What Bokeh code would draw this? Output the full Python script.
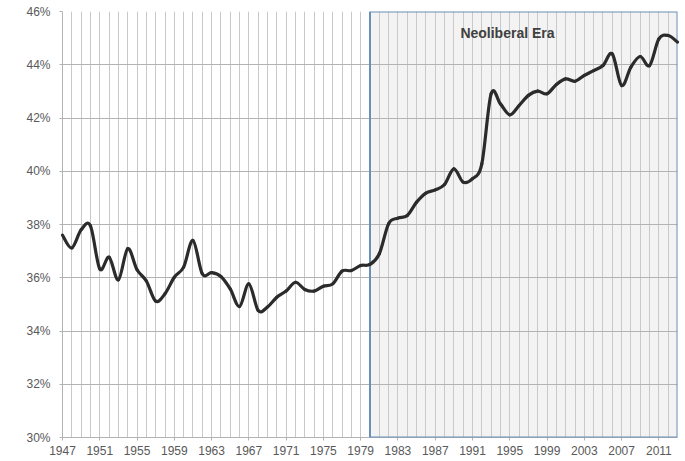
from bokeh.plotting import figure
from bokeh.models import Range1d, FixedTicker, PrintfTickFormatter, BoxAnnotation, Label
from bokeh.embed import file_html
from bokeh.resources import INLINE

years = list(range(1947, 2014))
share = [
    37.6, 37.12, 37.8, 37.95, 36.33, 36.77, 35.92, 37.09, 36.3, 35.88,
    35.12, 35.4, 36.02, 36.4, 37.4, 36.15, 36.19, 36.05, 35.58, 34.92,
    35.77, 34.77, 34.9, 35.27, 35.5, 35.83, 35.56, 35.5, 35.68, 35.77,
    36.25, 36.27, 36.46, 36.5, 36.9, 38.03, 38.24, 38.34, 38.84, 39.18,
    39.3, 39.5, 40.09, 39.59, 39.72, 40.28, 42.91, 42.53, 42.12, 42.47,
    42.85, 43.01, 42.91, 43.26, 43.47, 43.38, 43.6, 43.78, 43.97, 44.41,
    43.22, 43.91, 44.31, 43.97, 44.97, 45.1, 44.85,
]
x_tick_years = list(range(1947, 2014, 4))
y_ticks = [30, 32, 34, 36, 38, 40, 42, 44, 46]
era_start, era_end = 1980, 2013
era_label = "Neoliberal Era"
era_label_x, era_label_y = 1989.7, 45.2

p = figure(width=680, height=461, output_backend="svg", toolbar_location=None,
           x_range=Range1d(1947, 2013), y_range=Range1d(30, 46),
           min_border_left=62, min_border_top=11, min_border_bottom=24, min_border_right=3)
p.outline_line_color = None
p.background_fill_color = "white"
p.border_fill_color = "white"

era_fill = BoxAnnotation(left=era_start, right=era_end, bottom=30, top=46,
                         fill_color="#f3f3f3", fill_alpha=1.0, line_color=None, level="image")
p.add_layout(era_fill)

p.xgrid.ticker = FixedTicker(ticks=years)
p.xgrid.grid_line_color = "#c9c9c9"
p.xgrid.grid_line_width = 1
p.ygrid.ticker = FixedTicker(ticks=y_ticks)
p.ygrid.grid_line_color = "#b3b3b3"
p.ygrid.grid_line_width = 1

era_border = BoxAnnotation(left=era_start, right=era_end, bottom=30, top=46,
                           fill_color=None, fill_alpha=0, line_color="#6a90b8", line_alpha=1.0,
                           line_width=2, level="annotation")
p.add_layout(era_border)

p.xaxis.ticker = FixedTicker(ticks=x_tick_years)
p.yaxis.ticker = FixedTicker(ticks=y_ticks)
p.yaxis.formatter = PrintfTickFormatter(format="%d%%")
for ax in (p.xaxis[0], p.yaxis[0]):
    ax.axis_line_color = "#b3b3b3"
    ax.major_tick_line_color = "#b3b3b3"
    ax.major_tick_in = 0
    ax.major_tick_out = 3
    ax.minor_tick_line_color = None
    ax.major_label_text_color = "#595959"
    ax.major_label_text_font = "Liberation Sans"
    ax.major_label_text_font_size = "12px"
p.yaxis.major_label_standoff = 9
p.xaxis.major_label_standoff = 5

# smoothed curve: cubic Bezier segments through the data points (Catmull-Rom control points)
n = len(years)
x0, y0, x1, y1, cx0, cy0, cx1, cy1 = [], [], [], [], [], [], [], []
for i in range(n - 1):
    a = max(i - 1, 0)
    d = min(i + 2, n - 1)
    x0.append(years[i]); y0.append(share[i])
    x1.append(years[i + 1]); y1.append(share[i + 1])
    cx0.append(years[i] + (years[i + 1] - years[a]) / 6)
    cy0.append(share[i] + (share[i + 1] - share[a]) / 6)
    cx1.append(years[i + 1] - (years[d] - years[i]) / 6)
    cy1.append(share[i + 1] - (share[d] - share[i]) / 6)
p.bezier(x0=x0, y0=y0, x1=x1, y1=y1, cx0=cx0, cy0=cy0, cx1=cx1, cy1=cy1,
         line_color="#2b2b2b", line_width=3.2, line_cap="round", level="overlay")

p.add_layout(Label(x=era_label_x, y=era_label_y, text=era_label, text_font="Liberation Sans",
                   text_font_style="bold", text_font_size="14px", text_color="#404040",
                   text_baseline="middle", text_align="left"))

open("out.html", "w").write(file_html(p, INLINE))
